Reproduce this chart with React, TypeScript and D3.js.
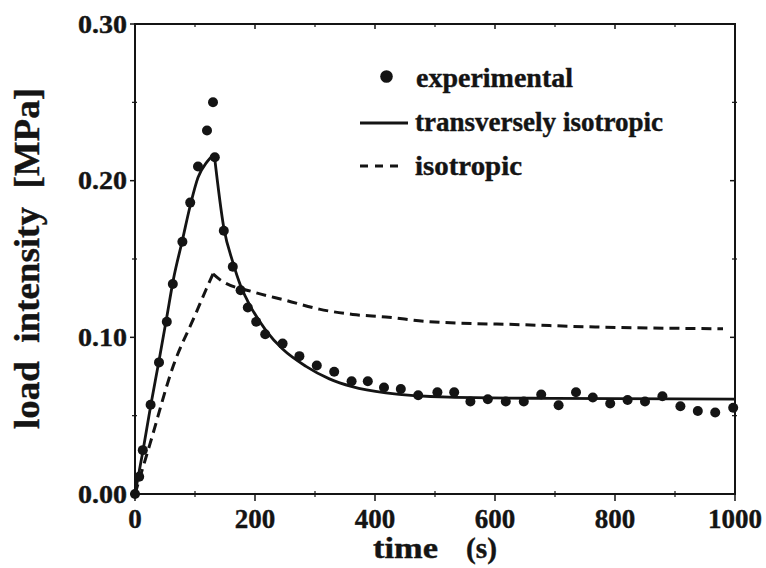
import React from 'react';
import * as d3 from 'd3';

// experimental points
const expTime = [0, 7, 13, 26, 40, 53, 63, 79, 92, 105, 120, 130, 133, 148, 163, 176, 188, 202, 217, 246, 274, 303, 332, 361, 388, 415, 443, 472, 504, 532, 559, 588, 618, 648, 677, 706, 735, 763, 792, 821, 850, 879, 909, 938, 967, 997];
const expLoad = [0, 0.011, 0.028, 0.057, 0.084, 0.110, 0.134, 0.161, 0.186, 0.209, 0.232, 0.250, 0.215, 0.168, 0.145, 0.130, 0.119, 0.110, 0.102, 0.096, 0.088, 0.082, 0.078, 0.072, 0.072, 0.068, 0.067, 0.063, 0.065, 0.065, 0.059, 0.0605, 0.059, 0.059, 0.0635, 0.0567, 0.065, 0.0616, 0.0578, 0.060, 0.059, 0.0624, 0.056, 0.053, 0.052, 0.055];

// transversely isotropic model (rise, then decay)
const tiRiseTime = [0, 13, 26, 40, 53, 64, 79, 92, 105, 120, 132];
const tiRiseLoad = [0, 0.027, 0.056, 0.085, 0.113, 0.137, 0.162, 0.184, 0.202, 0.212, 0.217];
const tiDecayTime = [132, 148, 163, 176, 188, 219, 246, 285, 324, 362, 418, 523, 700, 1000];
const tiDecayLoad = [0.217, 0.170, 0.148, 0.133, 0.123, 0.104, 0.0925, 0.0815, 0.0735, 0.0685, 0.0645, 0.0618, 0.061, 0.0605];

// isotropic model
const isoRiseTime = [0, 25, 64, 100, 119, 130];
const isoRiseLoad = [0, 0.032, 0.082, 0.114, 0.131, 0.1405];
const isoDecayTime = [130, 141, 197, 252, 307, 363, 418, 490, 650, 767, 980];
const isoDecayLoad = [0.1405, 0.137, 0.129, 0.1236, 0.118, 0.1146, 0.113, 0.110, 0.108, 0.1066, 0.1055];

const xTicks = [0, 200, 400, 600, 800, 1000];
const xMinor = [100, 300, 500, 700, 900];
const yTicks = [0, 0.1, 0.2, 0.3];
const yTickLabels = ['0.00', '0.10', '0.20', '0.30'];
const yMinor = [0.05, 0.15, 0.25];

const FONT = "'Liberation Serif', 'Times New Roman', serif";
const INK = '#141414';

export default function App() {
  const W = 766, H = 568;
  const x = d3.scaleLinear().domain([0, 1000]).range([135, 735]);
  const y = d3.scaleLinear().domain([0, 0.3]).range([494, 24]);
  const line = d3.line<[number, number]>().x(d => x(d[0])).y(d => y(d[1])).curve(d3.curveMonotoneX);
  const zip = (a: number[], b: number[]) => a.map((v, i) => [v, b[i]] as [number, number]);

  const x0 = x(0), x1 = x(1000), y0 = y(0), y1 = y(0.3);
  const textStroke = { stroke: INK, strokeWidth: 0.4 };

  return (
    <svg width={W} height={H} style={{ position: 'absolute', left: 0, top: 0, background: '#fff' }} fontFamily={FONT} fontWeight="bold">
      <rect width={W} height={H} fill="#fff" />
      {/* frame */}
      <rect x={x0} y={y1} width={x1 - x0} height={y0 - y1} fill="none" stroke={INK} strokeWidth={2} />
      {/* y ticks */}
      {yTicks.map(t => (
        <g key={'yt' + t}>
          <line x1={x0 - 5} x2={x0} y1={y(t)} y2={y(t)} stroke={INK} strokeWidth={1.5} />
          <line x1={x1} x2={x1 - 5} y1={y(t)} y2={y(t)} stroke={INK} strokeWidth={1.5} />
        </g>
      ))}
      {yMinor.map(t => (
        <g key={'ym' + t}>
          <line x1={x0 - 3} x2={x0 + 2} y1={y(t)} y2={y(t)} stroke={INK} strokeWidth={1.2} />
          <line x1={x1 + 2} x2={x1 - 3} y1={y(t)} y2={y(t)} stroke={INK} strokeWidth={1.2} />
        </g>
      ))}
      {xTicks.map(t => (
        <g key={'xt' + t}>
          <line x1={x(t)} x2={x(t)} y1={y0} y2={y0 + 7} stroke={INK} strokeWidth={1.5} />
          <line x1={x(t)} x2={x(t)} y1={y1} y2={y1 + 5} stroke={INK} strokeWidth={1.5} />
        </g>
      ))}
      {xMinor.map(t => (
        <g key={'xm' + t}>
          <line x1={x(t)} x2={x(t)} y1={y0 - 3} y2={y0 + 3} stroke={INK} strokeWidth={1.2} />
          <line x1={x(t)} x2={x(t)} y1={y1} y2={y1 + 3} stroke={INK} strokeWidth={1.2} />
        </g>
      ))}
      {/* tick labels */}
      {yTicks.map((t, i) => (
        <text key={'yl' + t} x={127} y={y(t) + 8.5} textAnchor="end" fontSize={26} fill={INK} {...textStroke} textLength={49} lengthAdjust="spacingAndGlyphs">{yTickLabels[i]}</text>
      ))}
      {xTicks.map(t => (
        <text key={'xl' + t} x={x(t)} y={528} textAnchor="middle" fontSize={27} fill={INK} {...textStroke}>{String(t)}</text>
      ))}
      {/* axis titles */}
      <text x={373} y={558} fontSize={30} fill={INK} {...textStroke} textLength={65} lengthAdjust="spacingAndGlyphs">time</text>
      <text x={466} y={558} fontSize={30} fill={INK} {...textStroke} textLength={31} lengthAdjust="spacingAndGlyphs">(s)</text>
      <text transform="translate(39,429) rotate(-90)" x={0} y={0} fontSize={35} fill={INK} {...textStroke} textLength={341} lengthAdjust="spacingAndGlyphs" style={{ whiteSpace: 'pre' }}>{'load  intensity  [MPa]'}</text>

      {/* model curves */}
      <path d={line(zip(isoRiseTime, isoRiseLoad)) || ''} fill="none" stroke={INK} strokeWidth={3} strokeDasharray="10 6" />
      <path d={line(zip(isoDecayTime, isoDecayLoad)) || ''} fill="none" stroke={INK} strokeWidth={3} strokeDasharray="10 6" />
      <path d={line(zip(tiRiseTime, tiRiseLoad)) || ''} fill="none" stroke={INK} strokeWidth={2.8} />
      <path d={line(zip(tiDecayTime, tiDecayLoad)) || ''} fill="none" stroke={INK} strokeWidth={2.8} />

      {/* experimental points */}
      {expTime.map((t, i) => (
        <circle key={'p' + i} cx={x(t)} cy={y(expLoad[i])} r={5} fill={INK} />
      ))}

      {/* legend */}
      <circle cx={386.5} cy={76.5} r={6.3} fill={INK} />
      <text x={416} y={87} fontSize={28} fill={INK} {...textStroke} textLength={157} lengthAdjust="spacingAndGlyphs">experimental</text>
      <line x1={360} x2={408} y1={123} y2={123} stroke={INK} strokeWidth={2.8} />
      <text x={415} y={131} fontSize={28} fill={INK} {...textStroke} textLength={248} lengthAdjust="spacingAndGlyphs">transversely isotropic</text>
      <line x1={360} x2={398} y1={166} y2={166} stroke={INK} strokeWidth={3} strokeDasharray="8 7" />
      <text x={415} y={175} fontSize={28} fill={INK} {...textStroke} textLength={107} lengthAdjust="spacingAndGlyphs">isotropic</text>
    </svg>
  );
}
